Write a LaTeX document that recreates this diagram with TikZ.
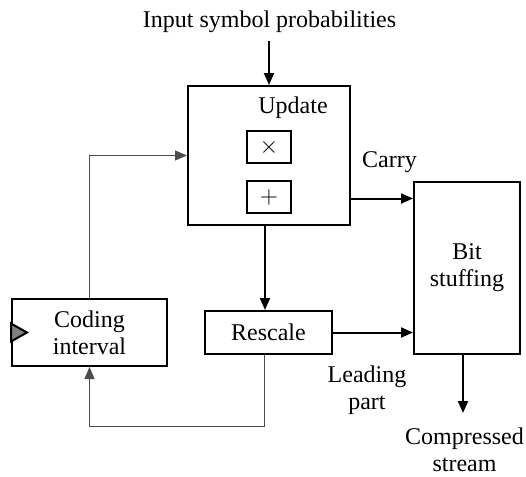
\documentclass[tikz,border=0pt]{standalone}
\usepackage{fontspec}
\setmainfont{Liberation Serif}
\usetikzlibrary{arrows.meta}
\usetikzlibrary{positioning}

\begin{document}
\begin{tikzpicture}[x=0.5pt, y=-0.5pt,
        every node/.style={font=\fontsize{12}{13.5}\selectfont},
        block/.style={draw, line width=1pt, align=center, inner sep=0pt},
        lbl/.style={align=center, inner sep=0pt},
        flow/.style={line width=1pt, -{Triangle[length=6pt, width=5pt]}},
        back/.style={line width=0.5pt, draw=black!70, -{Triangle[length=6pt, width=5pt]}}]
                \useasboundingbox (0,0) rectangle (526,477);

                % blocks
                \node[block, minimum width=81pt, minimum height=69.5pt] (update) at (269,155.5) {};
                \node[lbl] (updlabel) at (293,108) {Update};
                \node[block, minimum width=22pt, minimum height=16pt] (mul) at (269,147) {$\times$};
                \node[block, minimum width=22pt, minimum height=16pt] (add) at (269,197) {$+$};
                \node[block, minimum width=53pt, minimum height=86pt] (bitstuff) at (467,268) {Bit\\stuffing};
                \node[block, minimum width=63.5pt, minimum height=21.5pt] (rescale) at (268.5,332.5) {Rescale};
                \node[block, minimum width=77.5pt, minimum height=33.5pt] (coding) at (89.5,332.5) {Coding\\interval};
                \filldraw[fill=gray, draw=black, line width=1pt] ([yshift=4.5pt]coding.west) -- ([xshift=8pt]coding.west) -- ([yshift=-4.5pt]coding.west) -- cycle;

                % texts
                \node[lbl] (input) at (269.5,22) {Input symbol probabilities};
                \node[lbl] (carry) at (389.5,162) {Carry};
                \node[lbl] (leading) at (367,390) {Leading\\part};
                \node[lbl] (compressed) at (464.5,450) {Compressed\\stream};

                % connectors
                \draw[flow] (update.north |- input.south) ++(0,8) -- (update.north);
                \coordinate (carryout) at ([yshift=-21.5pt]update.east);
                \draw[flow] (carryout) -- (carryout -| bitstuff.west);
                \coordinate (updout) at (265,225);
                \draw[flow] (updout |- update.south) -- (updout |- rescale.north);
                \draw[flow] (rescale.east) -- (rescale.east -| bitstuff.west);
                \coordinate (out) at (463,413);
                \draw[flow] (out |- bitstuff.south) -- (out);

                % feedback loop
                \coordinate (loop) at (264,426);
                \draw[back] (loop |- rescale.south) -- (loop) -| (coding.south);
                \draw[back] (coding.north) |- (update.west);
\end{tikzpicture}
\end{document}
